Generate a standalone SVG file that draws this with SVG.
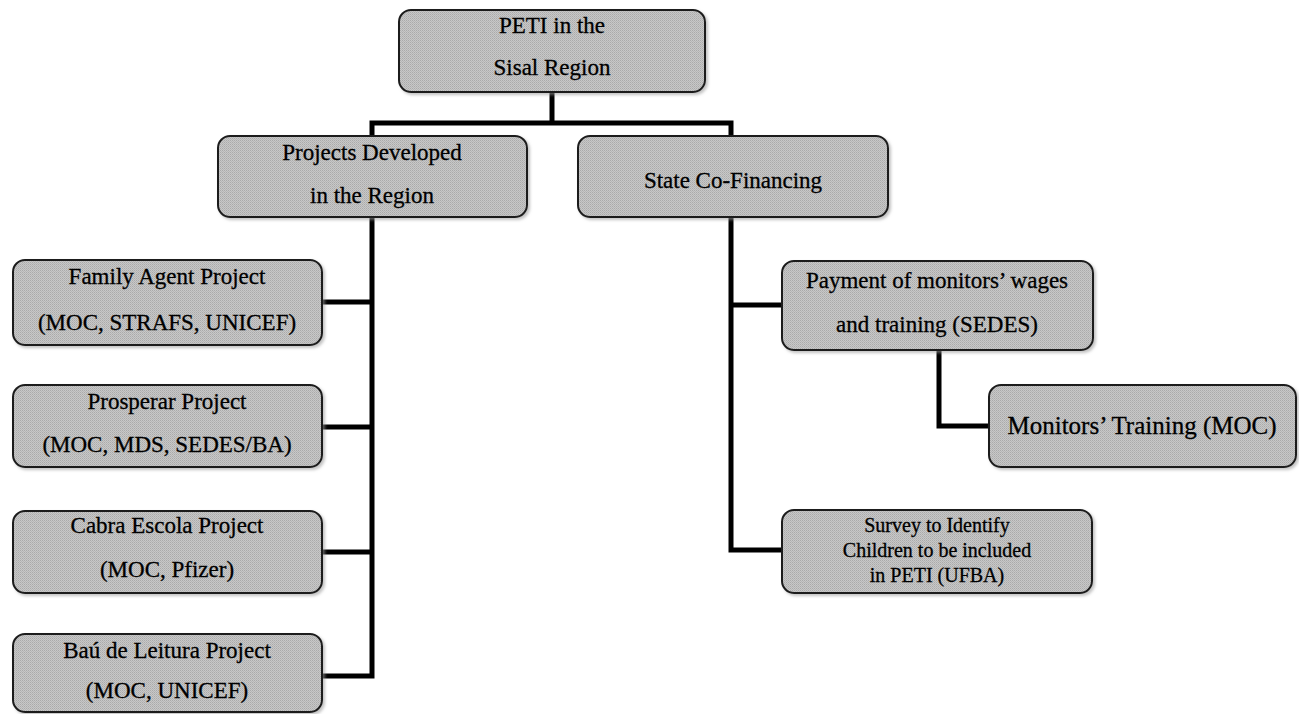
<svg xmlns="http://www.w3.org/2000/svg" width="1299" height="714" viewBox="0 0 1299 714">
<defs>
<pattern id="dither" width="2" height="2" patternUnits="userSpaceOnUse">
<rect width="2" height="2" fill="#c8c8c8"/>
<rect width="1" height="1" fill="#aaaaaa"/>
<rect x="1" y="1" width="1" height="1" fill="#b6b6b6"/>
</pattern>
<filter id="sh" x="-5%" y="-10%" width="115%" height="130%">
<feDropShadow dx="2" dy="2" stdDeviation="1.5" flood-color="#999" flood-opacity="0.6"/>
</filter>
</defs>
<style>
.box{fill:url(#dither);stroke:#1c1c1c;stroke-width:2;filter:url(#sh)}
.t{font-family:"Liberation Serif","Times New Roman",serif;font-size:23px;fill:#000;stroke:#000;stroke-width:0.3;text-anchor:middle}
.s{font-size:20px}
.conn{fill:none;stroke:#000;stroke-width:5;stroke-linejoin:miter;stroke-linecap:square}
</style>
<rect width="1299" height="714" fill="#fff"/>
<g id="connectors">
<path class="conn" d="M552,93 V123 M372,136 V123 H731 V136"/>
<path class="conn" d="M372,218 V676 M323,302 H372 M323,427 H372 M323,552 H372 M323,676 H372"/>
<path class="conn" d="M731,218 V550 H782 M731,305 H782"/>
<path class="conn" d="M939,351 V426 H989"/>
</g>
<g id="n-peti">
<rect class="box" x="399" y="10" width="306" height="82" rx="12"/>
<text class="t" x="552" y="33">PETI in the</text>
<text class="t" x="552" y="75">Sisal Region</text>
</g>
<g id="n-projects">
<rect class="box" x="218" y="136" width="309" height="81" rx="12"/>
<text class="t" x="372" y="160">Projects Developed</text>
<text class="t" x="372" y="203">in the Region</text>
</g>
<g id="n-state">
<rect class="box" x="578" y="136" width="310" height="81" rx="12"/>
<text class="t" x="733" y="188">State Co-Financing</text>
</g>
<g id="n-family">
<rect class="box" x="13" y="260" width="309" height="85" rx="12"/>
<text class="t" x="167" y="284">Family Agent Project</text>
<text class="t" x="167" y="330">(MOC, STRAFS, UNICEF)</text>
</g>
<g id="n-prosperar">
<rect class="box" x="13" y="385" width="309" height="82" rx="12"/>
<text class="t" x="167" y="409">Prosperar Project</text>
<text class="t" x="167" y="452">(MOC, MDS, SEDES/BA)</text>
</g>
<g id="n-cabra">
<rect class="box" x="13" y="511" width="309" height="82" rx="12"/>
<text class="t" x="167" y="533">Cabra Escola Project</text>
<text class="t" x="167" y="577">(MOC, Pfizer)</text>
</g>
<g id="n-bau">
<rect class="box" x="13" y="634" width="309" height="78" rx="12"/>
<text class="t" x="167" y="658">Baú de Leitura Project</text>
<text class="t" x="167" y="698">(MOC, UNICEF)</text>
</g>
<g id="n-payment">
<rect class="box" x="782" y="261" width="311" height="89" rx="12"/>
<text class="t" x="937" y="288">Payment of monitors’ wages</text>
<text class="t" x="937" y="332">and training (SEDES)</text>
</g>
<g id="n-monitors">
<rect class="box" x="989" y="385" width="307" height="82" rx="12"/>
<text class="t" x="1142" y="434" style="font-size:25px">Monitors’ Training (MOC)</text>
</g>
<g id="n-survey">
<rect class="box" x="782" y="510" width="310" height="83" rx="12"/>
<text class="t s" x="937" y="532">Survey to Identify</text>
<text class="t s" x="937" y="557">Children to be included</text>
<text class="t s" x="937" y="582">in PETI (UFBA)</text>
</g>
</svg>
